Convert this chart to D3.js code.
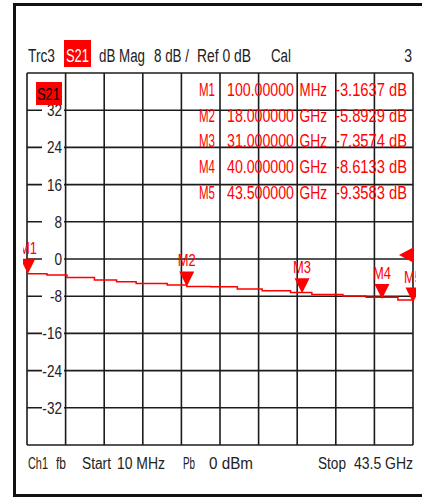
<!DOCTYPE html>
<html>
<head>
<meta charset="utf-8">
<script src="https://cdn.jsdelivr.net/npm/d3@7"></script>
<style>
  html, body { margin: 0; padding: 0; background: #fff; }
  svg { display: block; }
  text { font-family: "Liberation Sans", Arial, sans-serif; }
</style>
</head>
<body>
<div id="chart"></div>
<script>
// trace S21, frequency in GHz, magnitude in dB
let traceGHz = [0.01, 2.25, 4.5, 7.6, 10.1, 12.3, 15.8, 18.0, 20.7, 23.7, 26.5, 29.7, 32.1, 35.6, 38.2, 41.8, 43.5];
let traceDb = [-3.16, -3.44, -3.98, -4.5, -4.88, -5.27, -5.59, -5.89, -5.96, -6.45, -6.82, -7.2, -7.63, -7.96, -8.24, -8.82, -9.3];

let markerNames = ["M1", "M2", "M3", "M4", "M5"];
let markerGHz = [0.1, 18, 31, 40, 43.5];
let markerFreqText = ["100.00000", "18.000000", "31.000000", "40.000000", "43.500000"];
let markerUnit = ["MHz", "GHz", "GHz", "GHz", "GHz"];
let markerDb = [-3.1637, -5.8929, -7.3574, -8.6133, -9.3583];

let yTicks = [40, 32, 24, 16, 8, 0, -8, -16, -24, -32, -40];
let yLabels = [32, 24, 16, 8, 0, -8, -16, -24, -32];
let refLevel = 0;
let startGHz = 0.01, stopGHz = 43.5;

let header = [["Trc3", 28, 27], ["dB Mag", 99, 46], ["8 dB /", 154, 35], ["Ref 0 dB", 197, 54], ["Cal", 271, 20]];
let footer = [["Ch1", 28, 20], ["fb", 56, 10], ["Start", 82, 29], ["10 MHz", 117, 48], ["Pb", 183, 12], ["0 dBm", 209, 44], ["Stop", 318, 28], ["43.5 GHz", 354, 59]];

let W = 422, H = 497;
let gx0 = 27, gx1 = 413, gy0 = 73, gy1 = 445;
let red = "#ff0000";

let svg = d3.select("#chart").append("svg")
    .attr("width", W)
    .attr("height", H);

let txt = function(parent, str, x, y, w, size, color) {
    return parent.append("text")
        .attr("x", x)
        .attr("y", y)
        .attr("textLength", w)
        .attr("lengthAdjust", "spacingAndGlyphs")
        .attr("font-size", size)
        .attr("fill", color || "#222")
        .text(str);
}

// frame
svg.append("path")
    .attr("d", `M${W},4.5 H14.5 V${H - 1.5} H${W}`)
    .attr("fill", "none")
    .attr("stroke", "#111")
    .attr("stroke-width", 3);

let x = d3.scaleLinear().domain([0, stopGHz]).range([gx0, gx1]);
let y = d3.scaleLinear().domain([-40, 40]).range([gy1, gy0]);

// grid
let xDiv = d3.range(0, 11).map(function(i) { return i * stopGHz / 10; });
svg.append("g").selectAll("line")
    .data(xDiv)
    .enter().append("line")
    .attr("x1", function(d) { return x(d); })
    .attr("x2", function(d) { return x(d); })
    .attr("y1", gy0)
    .attr("y2", gy1)
    .attr("stroke", "#1c1c1c")
    .attr("stroke-width", 1.6);
svg.append("g").selectAll("line")
    .data(yTicks)
    .enter().append("line")
    .attr("x1", gx0)
    .attr("x2", gx1)
    .attr("y1", function(d) { return y(d); })
    .attr("y2", function(d) { return y(d); })
    .attr("stroke", "#1c1c1c")
    .attr("stroke-width", 1.6);

// y labels
let yl = svg.append("g").selectAll("g")
    .data(yLabels)
    .enter().append("g");
yl.append("rect")
    .attr("x", 42)
    .attr("y", function(d) { return y(d) - 3; })
    .attr("width", 22)
    .attr("height", 6)
    .attr("fill", "#fff");
yl.append("text")
    .attr("transform", function(d) { return `translate(62,${y(d) + 6}) scale(0.8,1)`; })
    .attr("text-anchor", "end")
    .attr("font-size", 17)
    .attr("fill", "#222")
    .text(function(d) { return d; });

// header
header.forEach(function(h) { txt(svg, h[0], h[1], 62, h[2], 18); });
svg.append("rect").attr("x", 64).attr("y", 40).attr("width", 27).attr("height", 27).attr("fill", red);
txt(svg, "S21", 66, 62, 23, 18, "#fff");
svg.append("text")
    .attr("transform", "translate(412,62) scale(0.78,1)")
    .attr("text-anchor", "end")
    .attr("font-size", 18)
    .attr("fill", "#222")
    .text("3");

// trace label box
svg.append("rect").attr("x", 36).attr("y", 82).attr("width", 26).attr("height", 23).attr("fill", red);
txt(svg, "S21", 37, 100, 23, 17, "#000");

// marker table
let rowY = function(i) { return 96 + i * 25.7; };
markerNames.forEach(function(m, i) {
    txt(svg, m, 199, rowY(i), 16, 17.5, red);
    txt(svg, markerFreqText[i], 227, rowY(i), 67, 17.5, red);
    txt(svg, markerUnit[i], 299.5, rowY(i), 27.5, 17.5, red);
    txt(svg, markerDb[i].toFixed(4) + " dB", 335, rowY(i), 72, 17.5, red);
});

// trace
let line = d3.line()
    .x(function(d) { return x(d[0]); })
    .y(function(d) { return y(d[1]); })
    .curve(d3.curveStepAfter);
svg.append("path")
    .datum(d3.zip(traceGHz, traceDb))
    .attr("d", line)
    .attr("fill", "none")
    .attr("stroke", red)
    .attr("stroke-width", 1.5);

// markers
svg.append("clipPath").attr("id", "mclip")
    .append("rect").attr("x", 23).attr("y", gy0).attr("width", 393).attr("height", gy1 - gy0);
let mk = svg.append("g").attr("clip-path", "url(#mclip)");
markerNames.forEach(function(m, i) {
    let mx = x(markerGHz[i]), my = y(markerDb[i]);
    mk.append("path")
        .attr("d", `M${mx - 7.5},${my - 15} L${mx + 7.5},${my - 15} L${mx},${my} Z`)
        .attr("fill", red);
    mk.append("text")
        .attr("x", mx - 9)
        .attr("y", my - 20)
        .attr("textLength", 18)
        .attr("lengthAdjust", "spacingAndGlyphs")
        .attr("font-size", 17)
        .attr("fill", red)
        .text(m);
});

// reference level arrow
let ry = y(refLevel) - 4;
svg.append("path")
    .attr("d", `M${gx1 - 14},${ry} L${gx1 + 1},${ry - 8} L${gx1 + 1},${ry + 8} Z`)
    .attr("fill", red);

// footer
footer.forEach(function(f) { txt(svg, f[0], f[1], 469, f[2], 16); });
</script>
</body>
</html>
